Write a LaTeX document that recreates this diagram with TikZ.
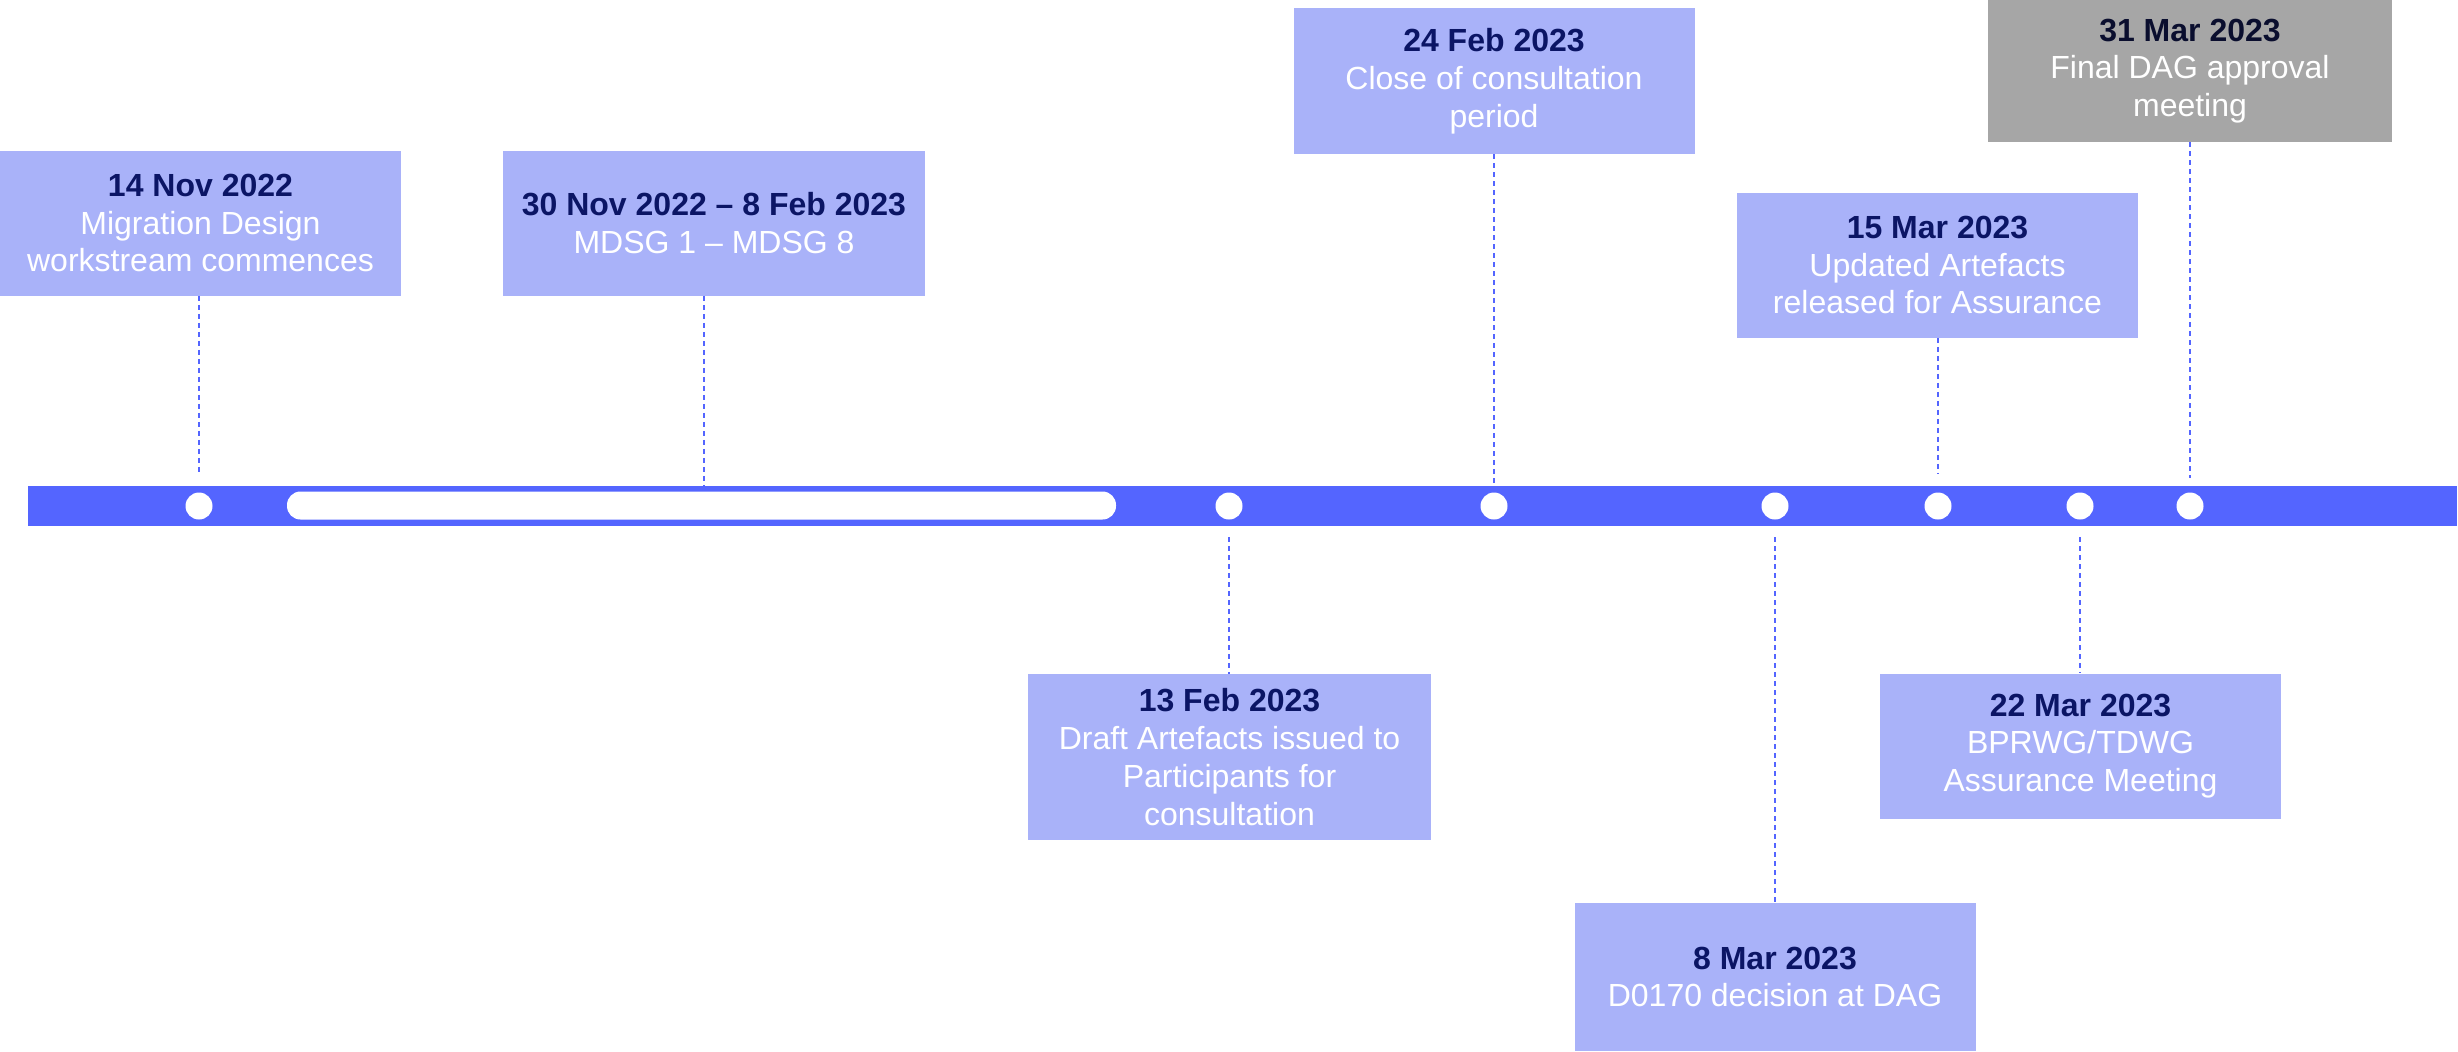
\documentclass[tikz,border=0pt]{standalone}
\usepackage{fontspec}
\setmainfont{Liberation Sans}
\definecolor{barblue}{HTML}{5465FF}
\definecolor{boxblue}{HTML}{A9B2F9}
\definecolor{datenavy}{HTML}{0B1565}
\definecolor{boxgrey}{HTML}{A6A6A6}
\definecolor{greynavy}{HTML}{0A0E2E}
\tikzset{
  event/.style={fill=boxblue, text=white, align=center, inner sep=0pt,
    minimum width=200.5pt, minimum height=72.5pt,
    font=\fontsize{16}{18.9}\selectfont},
  dot/.style={circle, fill=white, minimum size=13.5pt, inner sep=0pt},
  link/.style={barblue, line width=0.75pt, dash pattern=on 2.5pt off 2pt}
}
\newcommand{\when}[1]{\textbf{\textcolor{datenavy}{#1}}}
\begin{document}
\begin{tikzpicture}[x=0.5pt, y=-0.5pt]
  \useasboundingbox (0,0) rectangle (2458,1051);
  % timeline bar
  \fill[barblue] (28,486) rectangle (2457,526);
  \node[fill=white, rounded corners=6.75pt, minimum width=414.5pt,
    minimum height=14pt, inner sep=0pt] (pill) at (701.5,505.5) {};
  \node[dot] (d1) at (199,506) {};
  \node[dot] (d2) at (1229,506) {};
  \node[dot] (d3) at (1494,506) {};
  \node[dot] (d4) at (1775,506) {};
  \node[dot] (d5) at (1938,506) {};
  \node[dot] (d6) at (2080,506) {};
  \node[dot] (d7) at (2190,506) {};

  % boxes above
  \node[event] (nov14) at (200.5,223) {\when{14 Nov 2022}\\Migration Design\\workstream commences};
  \node[event, minimum width=211pt] (mdsg) at (714,223) {\when{30 Nov 2022 -- 8 Feb 2023}\\MDSG 1 -- MDSG 8};
  \node[event, minimum height=73pt] (feb24) at (1494,81) {\when{24 Feb 2023}\\Close of consultation\\period};
  \node[event] (mar15) at (1937.5,265) {\when{15 Mar 2023}\\Updated Artefacts\\released for Assurance};
  \node[event, fill=boxgrey, minimum width=202pt, minimum height=71pt] (mar31) at (2190,71)
    {\textbf{\textcolor{greynavy}{31 Mar 2023}}\\Final DAG approval\\meeting};

  % boxes below
  \node[event, minimum width=201.5pt, minimum height=83pt] (feb13) at (1229.5,757) {\when{13 Feb 2023}\\Draft Artefacts issued to\\Participants for\\consultation};
  \node[event] (mar22) at (2080.5,746) {\when{22 Mar 2023}\\BPRWG/TDWG\\Assurance Meeting};
  \node[event, minimum height=74pt] (mar8) at (1775,977) {\when{8 Mar 2023}\\D0170 decision at DAG};

  % free ends of the dashed links
  \coordinate (e1) at (199,472);
  \coordinate (e2) at (704,486);
  \coordinate (e3) at (1494,486);
  \coordinate (e5) at (1938,474);
  \coordinate (e7) at (2190,478);
  \coordinate (s2) at (1229,537);
  \coordinate (s4) at (1775,537);
  \coordinate (s6) at (2080,537);

  \draw[link] (nov14.south -| e1) -- (e1);
  \draw[link] (mdsg.south -| e2) -- (e2);
  \draw[link] (feb24.south -| e3) -- (e3);
  \draw[link] (mar15.south -| e5) -- (e5);
  \draw[link] (mar31.south -| e7) -- (e7);
  \draw[link] (s2) -- (feb13.north -| s2);
  \draw[link] (s4) -- (mar8.north -| s4);
  \draw[link] (s6) -- (mar22.north -| s6);
\end{tikzpicture}
\end{document}
